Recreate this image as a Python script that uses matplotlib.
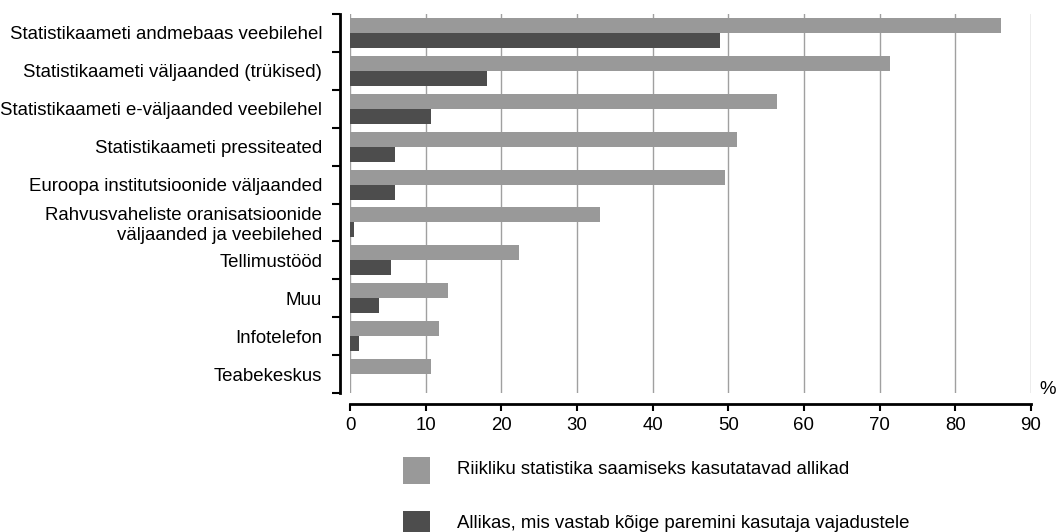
import matplotlib
matplotlib.use("Agg")
import matplotlib.pyplot as plt
import numpy as np
from matplotlib.patches import Rectangle

categories = [
    "Statistikaameti andmebaas veebilehel",
    "Statistikaameti väljaanded (trükised)",
    "Statistikaameti e-väljaanded veebilehel",
    "Statistikaameti pressiteated",
    "Euroopa institutsioonide väljaanded",
    "Rahvusvaheliste oranisatsioonide\nväljaanded ja veebilehed",
    "Tellimustööd",
    "Muu",
    "Infotelefon",
    "Teabekeskus",
]
used_sources = [86.1, 71.3, 56.4, 51.1, 49.5, 33.0, 22.3, 12.9, 11.8, 10.7]
best_source = [48.9, 18.1, 10.7, 6.0, 6.0, 0.5, 5.4, 3.8, 1.2, 0.0]
series_labels = [
    "Riikliku statistika saamiseks kasutatavad allikad",
    "Allikas, mis vastab kõige paremini kasutaja vajadustele",
]
xticks = [0, 10, 20, 30, 40, 50, 60, 70, 80, 90]

plt.rcParams['font.family'] = ['Liberation Sans', 'DejaVu Sans']
FS = 13.4

W, H = 1056, 532
fig = plt.figure(figsize=(W / 100, H / 100), dpi=100)
top_px, bot_px = 14, 393
ax = fig.add_axes([350 / W, 1 - bot_px / H, (1031 - 350) / W, (bot_px - top_px) / H])

light = "#999999"
dark = "#4d4d4d"
n = len(categories)
y = np.arange(n)
bh = 0.395
ax.barh(y - bh / 2, used_sources, height=bh, color=light, zorder=3)
ax.barh(y + bh / 2, best_source, height=bh, color=dark, zorder=3)

ax.set_xlim(0, 90)
ax.set_ylim(n - 0.5, -0.5)
ax.set_xticks(xticks)
ax.set_xticklabels([str(t) for t in xticks])
ax.tick_params(axis='x', length=5, width=1.5, color='black', direction='out', pad=4,
               labelsize=FS)
ax.grid(axis='x', color="#a0a0a0", lw=1, zorder=0)
for gl in ax.get_xgridlines():
    gl.set_clip_on(False)
ax.get_xgridlines()[0].set_color("#d0d0d0")

# y-axis: boundary ticks, labels at category centres
ax.set_yticks(np.arange(-0.5, n, 1.0))
ax.set_yticklabels([])
ax.set_yticks(y, minor=True)
ax.set_yticklabels(categories, minor=True, ha='right', linespacing=1.2)
ax.tick_params(axis='y', which='major', length=6, width=1.5, color='black', direction='out')
ax.tick_params(axis='y', which='minor', length=0, pad=13, labelsize=FS)

for s in ['top', 'right']:
    ax.spines[s].set_visible(False)
ax.spines['left'].set_position(('outward', 7))
ax.spines['left'].set_linewidth(2)
ax.spines['left'].set_color('black')
ax.spines['bottom'].set_position(('outward', 8))
ax.spines['bottom'].set_color('black')
ax.spines['bottom'].set_linewidth(2)

fig.text(1048 / W, 1 - 389 / H, "%", fontsize=FS, ha='center', va='center')

# legend, drawn in figure pixel positions
legend_colors = [light, dark]
row_centres = [470, 524]
for lab, col, yc in zip(series_labels, legend_colors, row_centres):
    fig.add_artist(Rectangle((403 / W, 1 - (yc + 13.5) / H), 27 / W, 27 / H,
                             transform=fig.transFigure, facecolor=col, edgecolor='none'))
    fig.text(457 / W, 1 - yc / H, lab, fontsize=FS, ha='left', va='center')

fig.savefig("out.png", dpi=100)
